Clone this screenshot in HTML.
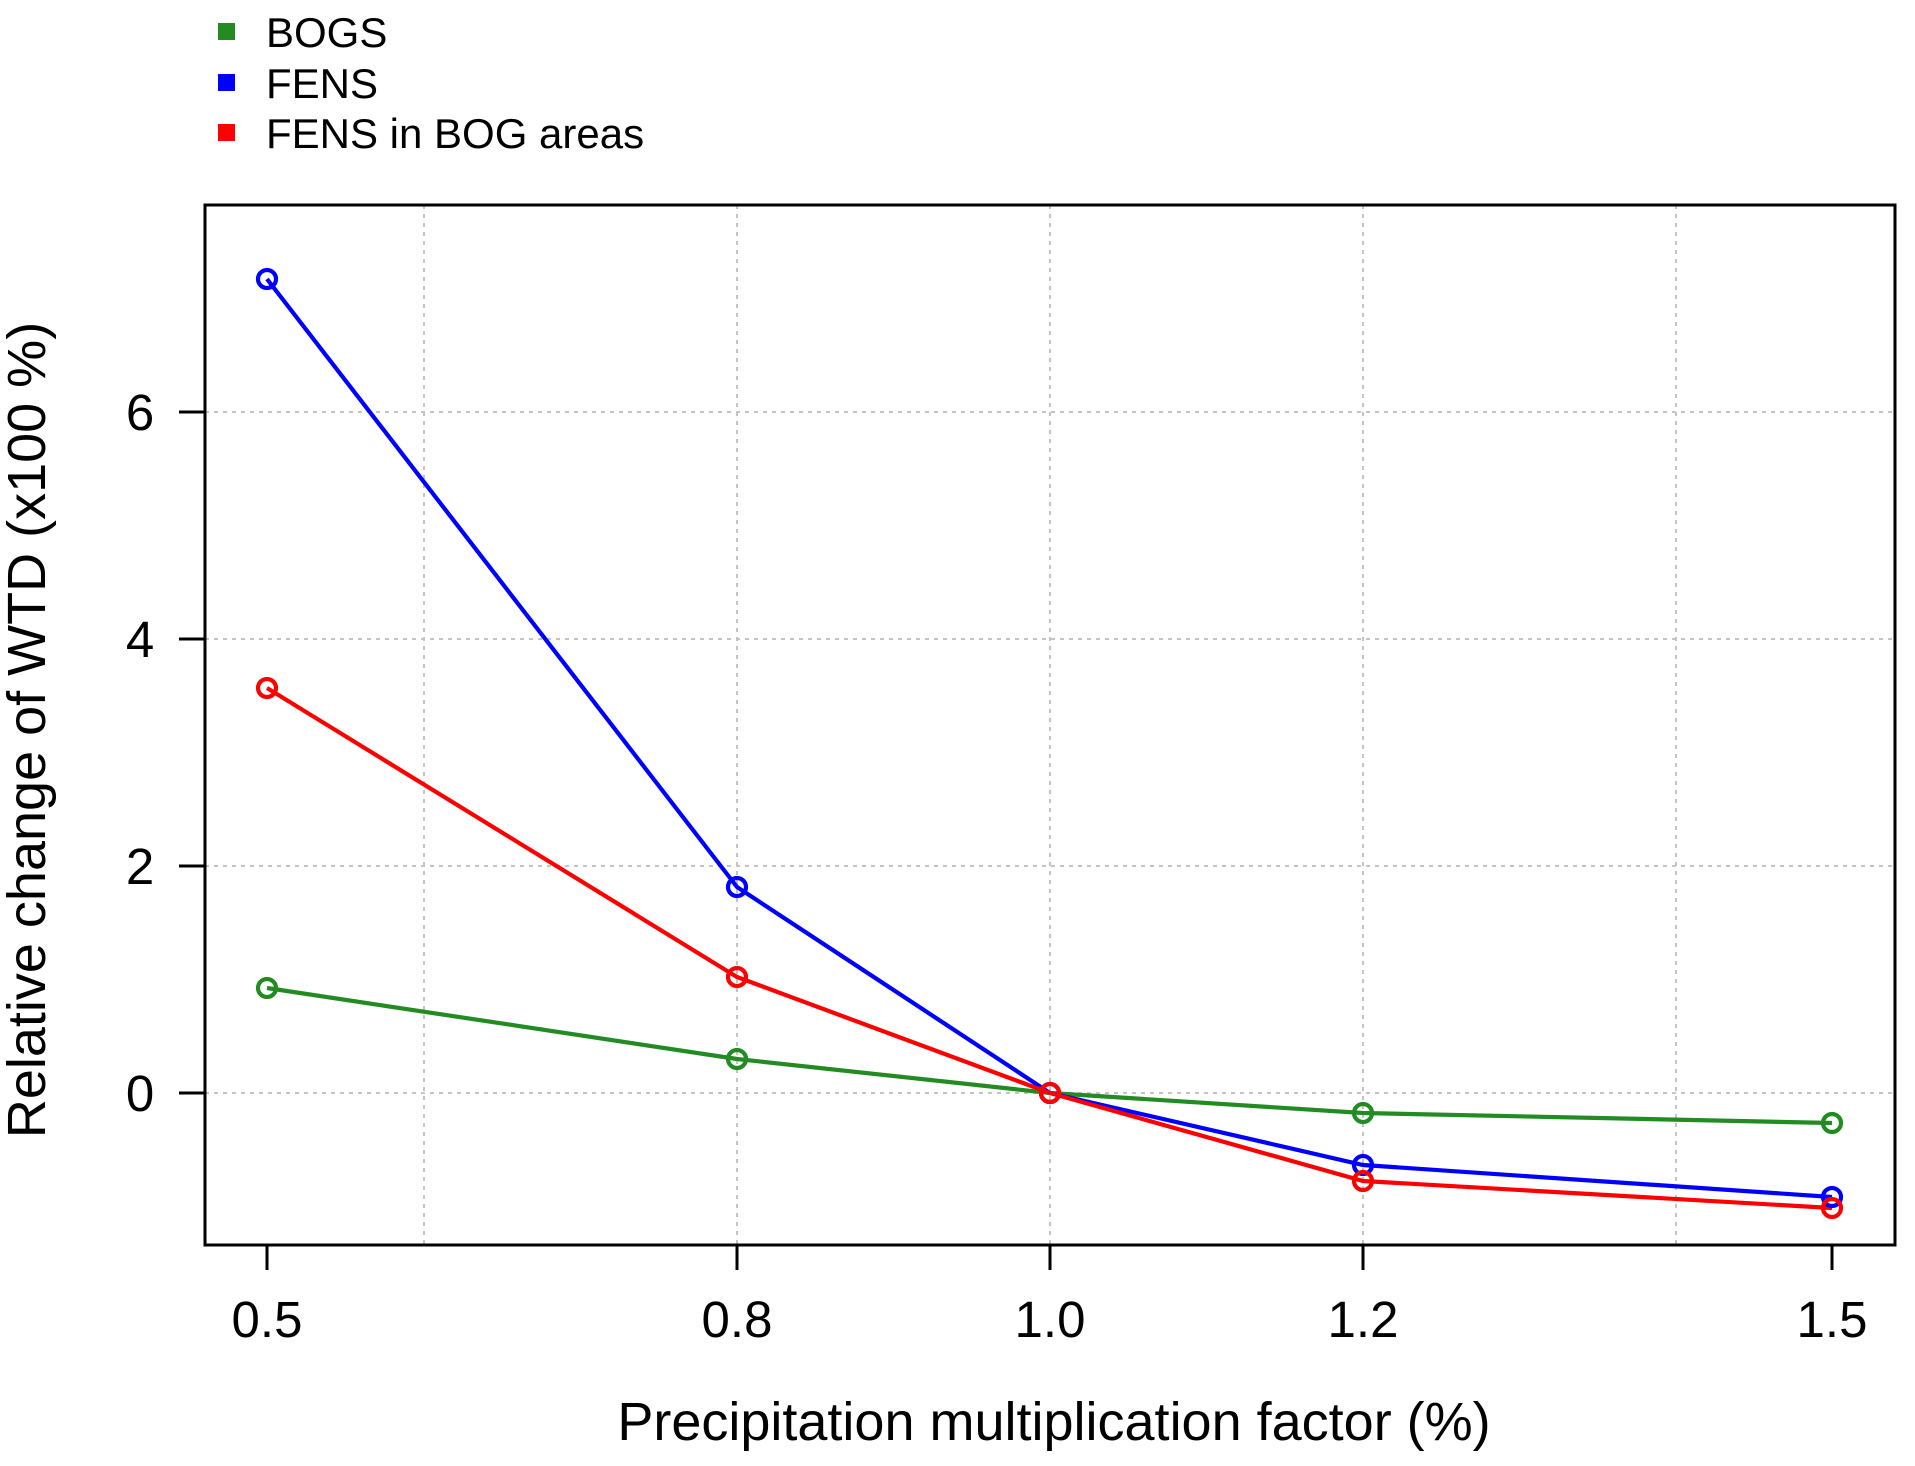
<!DOCTYPE html>
<html><head><meta charset="utf-8"><style>html,body{margin:0;padding:0;background:#fff}svg{display:block}</style></head>
<body>
<svg width="1915" height="1466" viewBox="0 0 1915 1466" xmlns="http://www.w3.org/2000/svg" font-family="Liberation Sans, Arial, sans-serif">
<rect width="1915" height="1466" fill="#fff"/>
<!-- grid -->
<g stroke="#c4c4c4" stroke-width="2" stroke-dasharray="4,5" fill="none">
<line x1="424" y1="205" x2="424" y2="1245"/>
<line x1="737" y1="205" x2="737" y2="1245"/>
<line x1="1050" y1="205" x2="1050" y2="1245"/>
<line x1="1363" y1="205" x2="1363" y2="1245"/>
<line x1="1676" y1="205" x2="1676" y2="1245"/>
<line x1="205" y1="1093" x2="1895" y2="1093"/>
<line x1="205" y1="866" x2="1895" y2="866"/>
<line x1="205" y1="639" x2="1895" y2="639"/>
<line x1="205" y1="412" x2="1895" y2="412"/>
</g>
<!-- series -->
<g fill="none" stroke-width="4.2">
<polyline stroke="#228B22" points="267,988 737,1059 1050,1093 1363,1113 1832,1123"/>
<polyline stroke="#0000ff" points="267,279 737,887 1050,1093 1363,1165 1832,1197"/>
<polyline stroke="#ff0000" points="267,688 737,977 1050,1093 1363,1181 1832,1208"/>
<g stroke="#228B22"><circle cx="267" cy="988" r="9"/><circle cx="737" cy="1059" r="9"/><circle cx="1050" cy="1093" r="9"/><circle cx="1363" cy="1113" r="9"/><circle cx="1832" cy="1123" r="9"/></g>
<g stroke="#0000ff"><circle cx="267" cy="279" r="9"/><circle cx="737" cy="887" r="9"/><circle cx="1050" cy="1093" r="9"/><circle cx="1363" cy="1165" r="9"/><circle cx="1832" cy="1197" r="9"/></g>
<g stroke="#ff0000"><circle cx="267" cy="688" r="9"/><circle cx="737" cy="977" r="9"/><circle cx="1050" cy="1093" r="9"/><circle cx="1363" cy="1181" r="9"/><circle cx="1832" cy="1208" r="9"/></g>
</g>
<!-- box & ticks -->
<rect x="205" y="205" width="1690" height="1040" fill="none" stroke="#000" stroke-width="3"/>
<g stroke="#000" stroke-width="3">
<line x1="267" y1="1245" x2="267" y2="1270"/>
<line x1="737" y1="1245" x2="737" y2="1270"/>
<line x1="1050" y1="1245" x2="1050" y2="1270"/>
<line x1="1363" y1="1245" x2="1363" y2="1270"/>
<line x1="1832" y1="1245" x2="1832" y2="1270"/>
<line x1="179" y1="1093" x2="205" y2="1093"/>
<line x1="179" y1="866" x2="205" y2="866"/>
<line x1="179" y1="639" x2="205" y2="639"/>
<line x1="179" y1="412" x2="205" y2="412"/>
</g>
<g font-size="51" fill="#000" text-anchor="middle">
<text x="267" y="1337">0.5</text>
<text x="737" y="1337">0.8</text>
<text x="1050" y="1337">1.0</text>
<text x="1363" y="1337">1.2</text>
<text x="1832" y="1337">1.5</text>
<text x="140" y="1111">0</text>
<text x="140" y="884">2</text>
<text x="140" y="657">4</text>
<text x="140" y="430">6</text>
<text x="1054" y="1440" font-size="54">Precipitation multiplication factor (%)</text>
<text transform="translate(45,730) rotate(-90)" font-size="54">Relative change of WTD (x100 %)</text>
</g>
<!-- legend -->
<rect x="218" y="23" width="17" height="17" fill="#228B22"/>
<rect x="218" y="74" width="17" height="17" fill="#0000ff"/>
<rect x="218" y="124" width="17" height="17" fill="#ff0000"/>
<g font-size="42" fill="#000">
<text x="266" y="47">BOGS</text>
<text x="266" y="98">FENS</text>
<text x="266" y="148">FENS in BOG areas</text>
</g>
</svg>
</body></html>
